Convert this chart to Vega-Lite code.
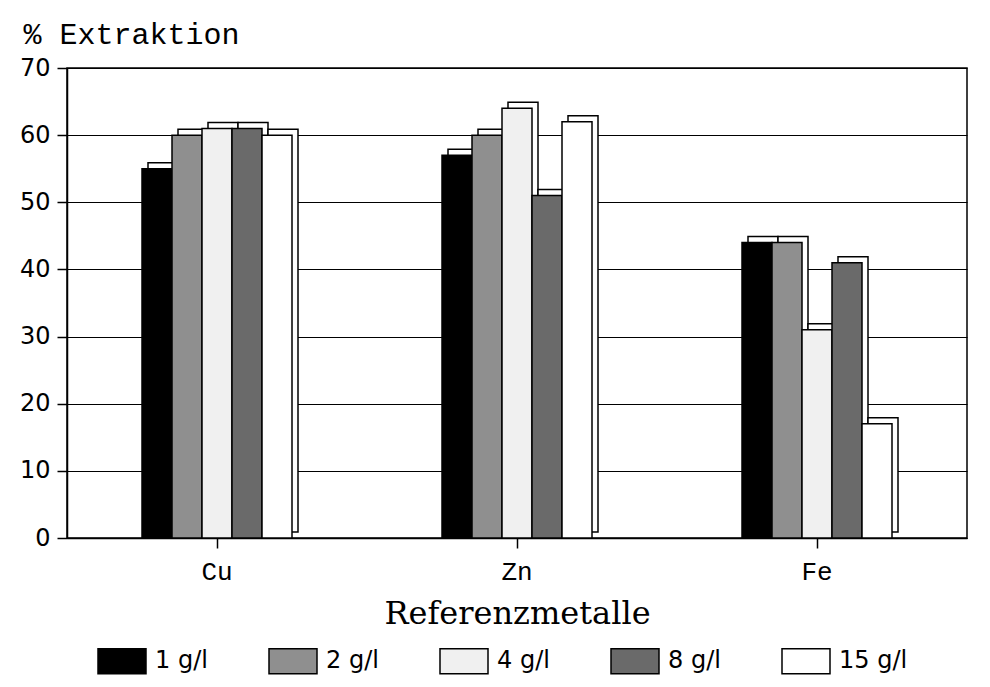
{
  "$schema": "https://vega.github.io/schema/vega-lite/v6.json",
  "width": 900,
  "height": 470,
  "autosize": {"type": "none"},
  "padding": {"left": 67, "top": 68, "right": 23, "bottom": 149},
  "background": "white",
  "config": {
    "view": {"stroke": "black", "strokeWidth": 1.5},
    "axis": {"domainColor": "black", "domainWidth": 1.5, "tickColor": "black", "tickWidth": 1.5, "labelColor": "black", "titleColor": "black", "titleFontWeight": "normal"}
  },
  "data": {
    "values": [
      {"metal": "Cu", "conc": "1 g/l", "value": 55},
      {"metal": "Cu", "conc": "2 g/l", "value": 60},
      {"metal": "Cu", "conc": "4 g/l", "value": 61},
      {"metal": "Cu", "conc": "8 g/l", "value": 61},
      {"metal": "Cu", "conc": "15 g/l", "value": 60},
      {"metal": "Zn", "conc": "1 g/l", "value": 57},
      {"metal": "Zn", "conc": "2 g/l", "value": 60},
      {"metal": "Zn", "conc": "4 g/l", "value": 64},
      {"metal": "Zn", "conc": "8 g/l", "value": 51},
      {"metal": "Zn", "conc": "15 g/l", "value": 62},
      {"metal": "Fe", "conc": "1 g/l", "value": 44},
      {"metal": "Fe", "conc": "2 g/l", "value": 44},
      {"metal": "Fe", "conc": "4 g/l", "value": 31},
      {"metal": "Fe", "conc": "8 g/l", "value": 41},
      {"metal": "Fe", "conc": "15 g/l", "value": 17}
    ]
  },
  "encoding": {
    "x": {
      "field": "metal", "type": "nominal", "sort": ["Cu", "Zn", "Fe"],
      "scale": {"paddingInner": 0.5, "paddingOuter": 0.25},
      "axis": {
        "title": "Referenzmetalle", "labelAngle": 0, "labelFont": "Liberation Mono", "labelFontSize": 26,
        "tickSize": 10, "labelPadding": 10, "titleFont": "DejaVu Serif", "titleFontSize": 32, "titlePadding": 14
      }
    },
    "y": {
      "field": "value", "type": "quantitative",
      "scale": {"domain": [0, 70]},
      "axis": {
        "values": [0, 10, 20, 30, 40, 50, 60, 70], "grid": true, "gridColor": "black", "gridWidth": 1.2, "gridOpacity": 1,
        "tickSize": 10, "labelPadding": 7, "labelFont": "DejaVu Sans", "labelFontSize": 24,
        "title": "% Extraktion", "titleAngle": 0, "titleAlign": "left", "titleBaseline": "alphabetic",
        "titleX": -44, "titleY": -25, "titleFont": "Liberation Mono", "titleFontSize": 30
      }
    }
  },
  "resolve": {"scale": {"xOffset": "independent"}},
  "layer": [
    {
      "mark": {"type": "bar", "fill": "white", "stroke": "black", "strokeWidth": 1.5, "yOffset": -6},
      "encoding": {
        "xOffset": {
          "field": "conc", "type": "nominal", "sort": ["1 g/l", "2 g/l", "4 g/l", "8 g/l", "15 g/l"],
          "scale": {"paddingInner": 0, "paddingOuter": 0, "range": [6, 156]}
        }
      }
    },
    {
      "mark": {"type": "bar", "stroke": "black", "strokeWidth": 1.5},
      "encoding": {
        "xOffset": {
          "field": "conc", "type": "nominal", "sort": ["1 g/l", "2 g/l", "4 g/l", "8 g/l", "15 g/l"],
          "scale": {"paddingInner": 0, "paddingOuter": 0}
        },
        "fill": {
          "field": "conc", "type": "nominal",
          "scale": {"domain": ["1 g/l", "2 g/l", "4 g/l", "8 g/l", "15 g/l"], "range": ["#000000", "#8f8f8f", "#f0f0f0", "#6a6a6a", "#ffffff"]},
          "legend": {
            "title": null, "orient": "none", "legendX": 30, "legendY": 568, "direction": "horizontal",
            "columns": 5, "gridAlign": "all", "columnPadding": 42,
            "symbolType": "M-1,-0.52H1V0.52H-1Z", "symbolSize": 2304, "symbolStrokeColor": "black", "symbolStrokeWidth": 1.5,
            "labelFont": "DejaVu Sans", "labelFontSize": 24, "labelColor": "black", "labelOffset": 8
          }
        }
      }
    }
  ]
}
